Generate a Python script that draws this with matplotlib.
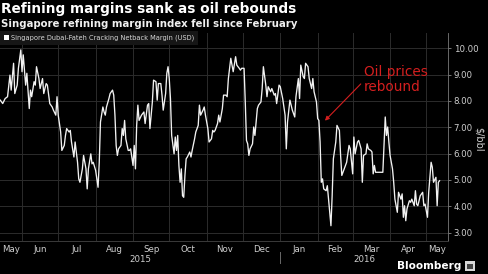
import matplotlib
matplotlib.use("Agg")
import matplotlib.pyplot as plt
import matplotlib.transforms as mtransforms
from matplotlib.patches import Patch, Rectangle
import pandas as pd

# ---------------- data ----------------
start_date = "2015-05-14"
end_date = "2016-05-19"
days = [0, 2, 4, 6, 8, 9, 11, 12, 14, 15, 17, 18, 19, 21, 22, 24, 25, 26, 28, 29,
        30, 32, 33, 35, 36, 38, 39, 41, 43, 44, 46, 47, 48, 50, 51, 53, 54, 55, 57, 58,
        59,
        61, 62, 64, 65, 66, 68, 69, 71, 72, 73, 75, 76, 77, 79, 80, 81, 82, 83, 85, 86,
        87, 88, 90, 91, 93, 94, 95, 96, 97, 98, 100, 101, 102, 103, 104, 106, 107, 108, 110, 111,
        112, 113, 114, 115,
        117, 119, 120, 122, 123, 124, 126, 127, 129, 130, 131, 133, 134, 135, 137, 138, 139, 140, 141, 142,
        144, 145, 146, 147, 148, 149, 150, 151, 152, 153, 154, 155, 157, 158, 159, 161, 162, 164, 165, 166,
        168, 169, 170, 172, 173, 175, 176,
        177, 178, 180, 181, 182, 184, 185, 187, 188, 189, 191, 192, 193, 195, 196, 198, 199, 200, 202, 203,
        204, 205, 206, 207, 209, 210, 211, 213, 214, 216, 217, 218, 220, 221, 222, 224, 225, 227, 228, 229,
        231, 232, 234, 235,
        236, 237, 238, 240, 241, 242, 244, 245, 247, 248, 249, 251, 252, 253, 255, 256, 258, 259, 260, 262,
        263, 264, 265, 266, 267, 268, 270, 271, 272, 274, 275, 276, 278, 279, 281, 282, 283, 285, 286, 287,
        289, 290, 292, 293,
        294, 296, 297, 299, 300, 301, 303, 304, 305, 307, 308, 309, 310, 311, 312, 314, 315, 317, 318, 319,
        320, 321, 322, 323, 325, 326, 327, 329, 330, 332, 333, 334, 335, 336, 337, 339, 340, 341, 343, 344,
        345, 346, 347, 348, 350, 351, 352, 354, 355, 357, 358, 359, 361, 362, 363, 364]
margin = [8.03, 7.90, 8.09, 8.16, 8.98, 8.41, 9.43, 8.28, 8.60, 9.24, 9.94, 9.11, 9.75, 8.60, 9.05, 7.71, 8.41, 8.16, 8.73, 8.60,
          9.30, 8.85, 8.47, 8.85, 8.28, 8.66, 8.60, 7.90, 7.77, 7.65, 7.46, 8.16, 7.46, 6.82, 6.12, 6.31, 6.69, 6.95, 6.82, 6.88,
          6.44,
          5.87, 6.44, 5.67, 5.04, 4.91, 5.42, 5.93, 5.42, 4.66, 5.42, 5.99, 5.61, 5.67, 5.36, 5.04, 4.72, 5.67, 7.20, 7.77, 7.58,
          7.46, 7.77, 8.09, 8.28, 8.41, 8.22, 7.46, 6.31, 5.93, 6.18, 6.31, 6.95, 6.69, 7.26, 6.56, 6.12, 6.12, 6.18, 5.55, 6.31,
          5.42, 7.07, 7.84, 7.26,
          7.46, 7.58, 7.14, 7.84, 7.90, 6.95, 7.96, 8.79, 8.73, 8.03, 8.66, 8.66, 8.22, 7.65, 8.28, 9.05, 9.30, 8.85, 8.09, 6.69,
          5.99, 6.63, 6.12, 6.69, 5.55, 4.91, 5.42, 4.40, 4.34, 5.17, 5.80, 5.87, 6.06, 5.87, 6.12, 6.56, 6.82, 7.07, 7.84, 7.46,
          7.65, 7.77, 7.46, 6.95, 6.44, 6.56, 6.88,
          6.82, 6.88, 7.14, 7.46, 7.20, 7.71, 8.22, 8.22, 8.16, 8.85, 9.62, 9.36, 9.11, 9.68, 9.36, 9.24, 9.17, 9.24, 9.24, 7.96,
          6.50, 6.37, 5.93, 6.18, 6.37, 7.01, 6.69, 7.71, 7.84, 7.96, 8.47, 9.30, 8.60, 8.16, 8.54, 8.35, 8.47, 8.22, 8.28, 7.90,
          8.60, 8.54, 8.09, 7.77,
          7.46, 6.18, 7.20, 8.03, 7.84, 7.65, 7.39, 8.16, 8.85, 8.09, 9.36, 8.92, 8.85, 9.43, 9.30, 8.85, 8.47, 8.85, 8.35, 7.96,
          7.33, 7.26, 6.44, 4.91, 5.04, 4.66, 4.59, 4.78, 4.27, 3.26, 4.40, 5.80, 6.44, 7.07, 6.88, 5.93, 5.17, 5.42, 5.55, 5.67,
          6.31, 6.18, 5.23, 6.63,
          5.99, 6.44, 6.50, 6.18, 4.91, 5.93, 5.99, 6.37, 6.18, 6.12, 6.06, 5.23, 5.55, 5.29, 5.29, 5.29, 5.29, 5.29, 6.31, 7.39,
          6.69, 7.01, 6.44, 5.93, 5.42, 4.91, 4.27, 3.77, 4.53, 4.27, 4.47, 3.58, 4.02, 3.45, 3.90, 4.21, 4.15, 4.27, 4.02, 4.59,
          4.08, 4.02, 4.21, 4.40, 4.53, 4.02, 4.08, 3.58, 4.53, 5.67, 5.48, 4.91, 5.10, 4.02, 4.91, 4.97]
series_label = "Singapore Dubai-Fateh Cracking Netback Margin (USD)"
y_ticks = [3, 4, 5, 6, 7, 8, 9, 10]
years = ["2015", "2016"]
title = "Refining margins sank as oil rebounds"
subtitle = "Singapore refining margin index fell since February"
y_unit = r"\$/bbl"
annotation = "Oil prices\nrebound"
annot_point = ("2016-02-07", 7.25)

# ---------------- figure ----------------
t0 = pd.Timestamp(start_date)
t1 = pd.Timestamp(end_date)
dates = t0 + pd.to_timedelta(days, unit="D")

W, H = 488, 274
fig = plt.figure(figsize=(W / 100, H / 100), dpi=100, facecolor="black")
ax = fig.add_axes([0.0, 1 - 241 / H, 448 / W, (241 - 33) / H])
ax.set_facecolor("black")

ax.plot(dates, margin, color="#f2f2f2", lw=0.95, zorder=3)

ax.set_ylim(2.68, 10.58)
ax.set_xlim(t0 - pd.Timedelta(hours=6), t1)

# y axis on right
ax.yaxis.tick_right()
ax.set_yticks(y_ticks)
ax.set_yticklabels([f"{v:.2f}" for v in y_ticks])
ax.tick_params(axis="y", colors="#8a8a8a", labelcolor="#cfcfcf", labelsize=6.2,
               length=2.5, width=0.6, pad=1.5)
ax.text(1.068, 0.49, y_unit, transform=ax.transAxes, rotation=270,
        ha="center", va="center", color="#cfcfcf", fontsize=7)

# x axis: grid at month starts, labels centred in months
month_starts = pd.date_range(t0.normalize().replace(day=1), t1, freq="MS")
ax.set_xticks([m for m in month_starts if t0 <= m <= t1])
ax.set_xticklabels([])
ax.tick_params(axis="x", which="major", length=0)
bounds = list(month_starts) + [month_starts[-1] + pd.offsets.MonthBegin(1)]
mids, mlabels = [], []
for a, b in zip(bounds[:-1], bounds[1:]):
    a2, b2 = max(a, t0), min(b, t1)
    if b2 > a2:
        mids.append(a2 + (b2 - a2) / 2)
        mlabels.append(a.strftime("%b"))
ax.set_xticks(mids, minor=True)
ax.set_xticklabels(mlabels, minor=True)
ax.tick_params(axis="x", which="minor", length=0, labelsize=6.2,
               labelcolor="#cfcfcf", pad=3)

ax.grid(True, which="major", color="#2c2c2c", lw=0.7)
ax.set_axisbelow(True)
for s in ["top", "left"]:
    ax.spines[s].set_visible(False)
ax.spines["right"].set_color("#7a7a7a")
ax.spines["right"].set_linewidth(0.6)
ax.spines["bottom"].set_color("#3a3a3a")
ax.spines["bottom"].set_linewidth(0.7)

# year labels + separator
trans = mtransforms.blended_transform_factory(ax.transData, ax.transAxes)
ybreak = pd.Timestamp("2016-01-01")
year_spans = [(t0, ybreak), (ybreak, t1)]
for yl, (a, b) in zip(years, year_spans):
    ax.text(a + (b - a) / 2, -0.068, yl, transform=trans, ha="center", va="top",
            fontsize=6.2, color="#cfcfcf")
ax.plot([ybreak, ybreak], [-0.055, -0.105], transform=trans, color="#6a6a6a",
        lw=0.7, clip_on=False)

# legend
h = Patch(facecolor="white", edgecolor="none")
leg = ax.legend([h], [series_label], loc="upper left", bbox_to_anchor=(0, 1.01),
                borderaxespad=0, frameon=True, fancybox=False, fontsize=4.8,
                handlelength=0.75, handleheight=0.75, handletextpad=0.3,
                borderpad=0.6, labelcolor="#d8d8d8")
leg.get_frame().set_facecolor("#161616")
leg.get_frame().set_edgecolor("none")
leg.get_frame().set_alpha(1)

# annotation
ax.annotate(annotation, xy=(pd.Timestamp(annot_point[0]), annot_point[1]),
            xytext=(pd.Timestamp("2016-03-10"), 9.35), textcoords="data",
            color="#d41f1f", fontsize=9.8, ha="left", va="top", linespacing=1.05,
            arrowprops=dict(arrowstyle="-|>", color="#d41f1f", lw=0.8,
                            mutation_scale=6, shrinkA=0, shrinkB=0,
                            relpos=(0, 0.45)))

# titles
fig.text(1 / W, 1 - 2 / H, title, color="white", fontsize=9.8,
         fontweight="bold", ha="left", va="top")
fig.text(1 / W, 1 - 19 / H, subtitle, color="#f0f0f0", fontsize=7.3,
         fontweight="bold", ha="left", va="top")

# Bloomberg mark
fig.text(461 / W, 1 - 266 / H, "Bloomberg", color="white", fontsize=7.6,
         fontweight="bold", ha="right", va="center")
fig.patches.append(Rectangle((465 / W, 1 - 271 / H), 10 / W, 10 / H,
                             transform=fig.transFigure, facecolor="#d8d8d8",
                             edgecolor="none"))
fig.patches.append(Rectangle((467 / W, 1 - 269 / H), 6 / W, 5 / H,
                             transform=fig.transFigure, facecolor="#444444",
                             edgecolor="none"))

fig.savefig("out.png", dpi=100, facecolor="black")
